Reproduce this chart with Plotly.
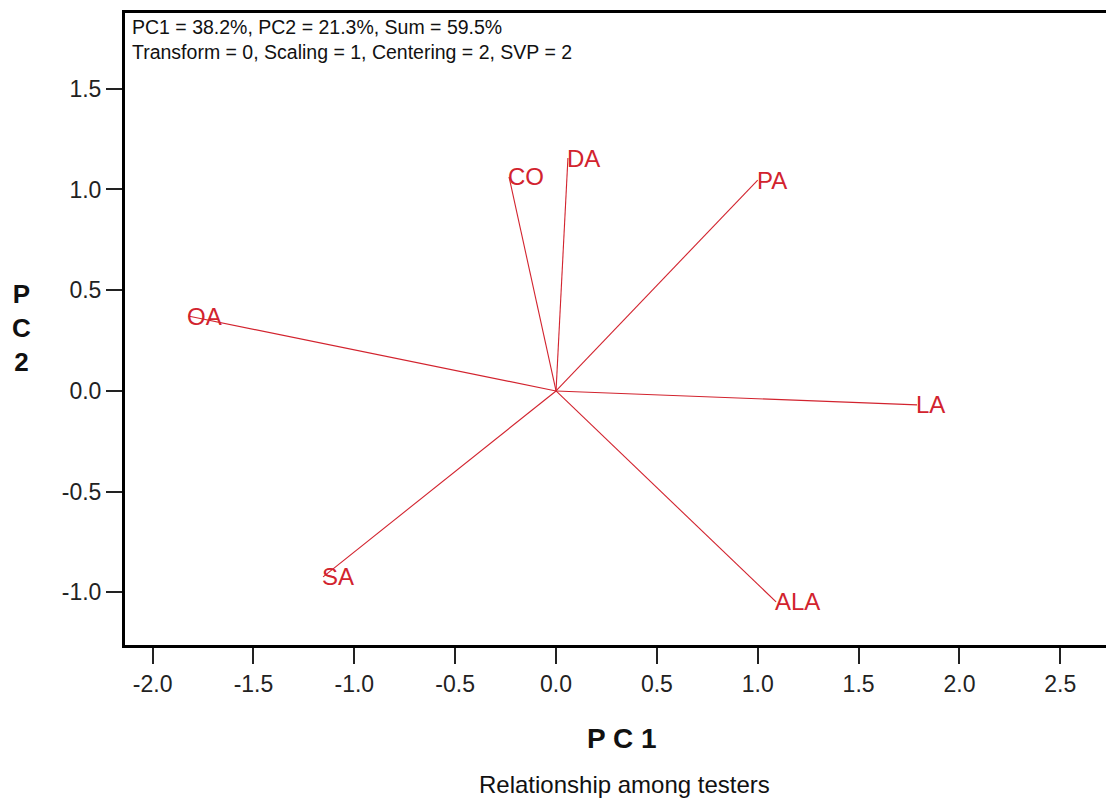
import plotly.graph_objects as go

testers = ["OA", "CO", "DA", "PA", "LA", "ALA", "SA"]
pc1 = [-1.824, -0.233, 0.059, 1.0, 1.79, 1.091, -1.155]
pc2 = [0.372, 1.062, 1.156, 1.047, -0.069, -1.047, -0.923]

x_ticks = [-2.0, -1.5, -1.0, -0.5, 0.0, 0.5, 1.0, 1.5, 2.0, 2.5]
y_ticks = [-1.0, -0.5, 0.0, 0.5, 1.0, 1.5]

RED = "#d2232e"
FONT = "Liberation Sans, Arial, sans-serif"

fig = go.Figure()
for name, x, y in zip(testers, pc1, pc2):
    fig.add_trace(go.Scatter(x=[0, x], y=[0, y], mode="lines",
                             line=dict(color=RED, width=1.1), showlegend=False,
                             hoverinfo="skip"))
    fig.add_annotation(x=x, y=y, text=name, showarrow=False, xanchor="left",
                       yanchor="middle", xshift=-3,
                       font=dict(family=FONT, size=24, color=RED))

# page has an 8px body margin; plot area: page x 125.., y 13..645
fig.update_layout(
    width=1114, height=801,
    margin=dict(l=117, r=0, t=5, b=164),
    plot_bgcolor="white", paper_bgcolor="white",
    font=dict(family=FONT, color="#222"),
    showlegend=False,
)
fig.update_xaxes(range=[-2.137, 2.806], tickvals=x_ticks,
                 ticktext=[f"{v:.1f}" for v in x_ticks],
                 ticks="outside", ticklen=16, tickwidth=1.5, tickcolor="#222",
                 showgrid=False, zeroline=False,
                 showline=True, linewidth=3, linecolor="black", mirror=True,
                 tickfont=dict(size=23, family=FONT, color="#222"))
fig.update_yaxes(range=[-1.261, 1.876], tickvals=y_ticks,
                 ticktext=[f"{v:.1f}" for v in y_ticks],
                 ticks="outside", ticklen=16, tickwidth=1.5, tickcolor="#222",
                 showgrid=False, zeroline=False,
                 showline=True, linewidth=3, linecolor="black", mirror=False,
                 tickfont=dict(size=23, family=FONT, color="#222"))


def px(page_x):
    return (page_x - 125) / 997


def py(page_y):
    return (645 - page_y) / 632


fig.add_annotation(xref="paper", yref="paper", x=px(130), y=py(14), xanchor="left",
                   yanchor="top", showarrow=False, align="left",
                   text="PC1 = 38.2%, PC2 = 21.3%, Sum = 59.5%<br>Transform = 0, Scaling = 1, Centering = 2, SVP = 2",
                   font=dict(family=FONT, size=19.5, color="#111"))
fig.add_annotation(xref="paper", yref="paper", x=px(622), y=py(739),
                   xanchor="center", yanchor="middle",
                   showarrow=False, text="<b>P C 1</b>",
                   font=dict(family=FONT, size=28, color="#111"))
fig.add_annotation(xref="paper", yref="paper", x=px(21), y=py(328),
                   xanchor="center", yanchor="middle",
                   showarrow=False, text="<b>P<br>C<br>2</b>",
                   font=dict(family=FONT, size=26, color="#111"))
fig.add_annotation(xref="paper", yref="paper", x=px(624), y=py(784),
                   xanchor="center", yanchor="middle",
                   showarrow=False, text="Relationship among testers",
                   font=dict(family=FONT, size=24, color="#111"))

fig.write_html("out.html")
